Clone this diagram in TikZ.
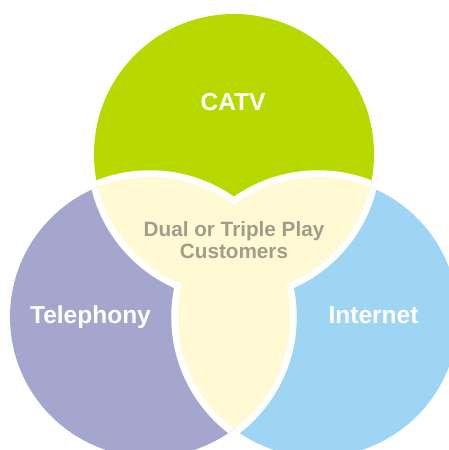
\documentclass[tikz,border=0pt]{standalone}
\usepackage{fontspec}
\setmainfont{Liberation Sans}
\definecolor{catvgreen}{RGB}{184,217,0}
\definecolor{telpurple}{RGB}{164,166,206}
\definecolor{netblue}{RGB}{158,212,244}
\definecolor{lensyellow}{RGB}{255,250,212}
\definecolor{dualgray}{RGB}{160,157,138}
\tikzset{
  setlabel/.style={text=white, font=\bfseries\fontsize{24.5}{24}\selectfont, inner sep=0pt, anchor=base},
  duallabel/.style={text=dualgray, font=\bfseries\fontsize{20.7}{22}\selectfont, inner sep=0pt, align=center},
  seam/.style={white, line width=13.5pt},
}
\begin{document}
\begin{tikzpicture}[x=1pt,y=-1pt]
\useasboundingbox (0,0) rectangle (449,450);
\coordinate (T) at (234,154);
\coordinate (L) at (150,317);
\coordinate (R) at (318,317);
\fill[catvgreen] (T) circle[radius=140pt];
\fill[telpurple] (L) circle[radius=140pt];
\fill[netblue] (R) circle[radius=140pt];
\foreach \a/\b in {T/L,T/R,L/T,L/R,R/T,R/L}{
  \begin{scope}
    \clip (\a) circle[radius=140pt];
    \draw[seam] (\b) circle[radius=140pt];
  \end{scope}
}
\foreach \a/\b in {T/L,T/R,L/R}{
  \begin{scope}
    \clip (\a) circle[radius=140pt];
    \fill[lensyellow] (\b) circle[radius=140pt];
  \end{scope}
}
\node[setlabel] (catv) at (233,110) {CATV};
\node[setlabel] (tel) at (90.5,323) {Telephony};
\node[setlabel] (net) at (373.5,323) {Internet};
\node[duallabel] (dual) at (234,240.5) {Dual or Triple Play\\Customers};
\end{tikzpicture}
\end{document}
